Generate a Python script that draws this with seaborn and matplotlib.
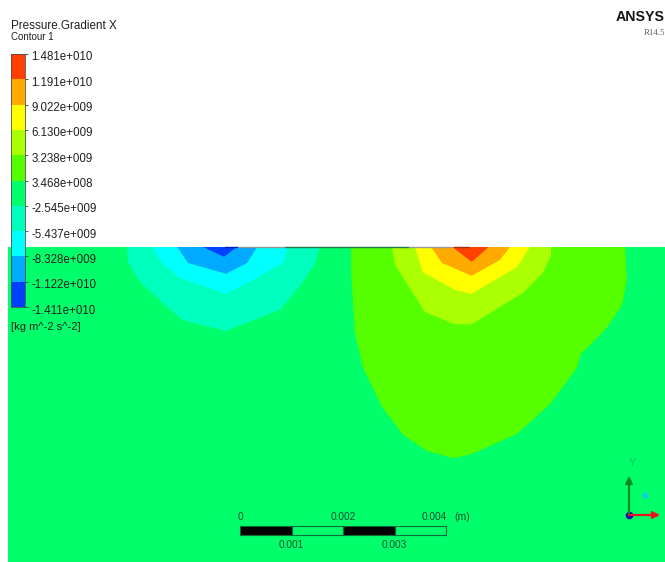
import numpy as np
import seaborn as sns
import matplotlib.pyplot as plt
from matplotlib.colors import BoundaryNorm, ListedColormap
from matplotlib.transforms import ScaledTranslation

# contour levels, top of legend first
LEVELS = [1.481e10, 1.191e10, 9.022e9, 6.130e9, 3.238e9, 3.468e8,
          -2.545e9, -5.437e9, -8.328e9, -1.122e10, -1.411e10]
LEVEL_LABELS = ["1.481e+010", "1.191e+010", "9.022e+009", "6.130e+009",
                "3.238e+009", "3.468e+008", "-2.545e+009", "-5.437e+009",
                "-8.328e+009", "-1.122e+010", "-1.411e+010"]
BAND_COLORS = ["#FF4000", "#FFAA00", "#FFFF00", "#AAFF00", "#55FF00",
               "#00FF6A", "#00FFBF", "#00FFFF", "#00AAFF", "#0040FF"]

# band outlines in mm, depth measured down from the top wall
TEAL_X = [-2.19, -2.17, -1.94, -1.50, -1.11, -0.27, 0.78, 1.22, 1.46, 1.55]
TEAL_D = [0, 0.31, 0.68, 1.09, 1.42, 1.63, 1.22, 0.68, 0.31, 0]
CYAN_X = [-1.71, -1.51, -1.17, -0.27, 0.25, 0.83, 0.93]
CYAN_D = [0, 0.31, 0.60, 0.91, 0.64, 0.31, 0]
SKY_X = [-1.22, -1.01, -0.27, 0.14, 0.33]
SKY_D = [0, 0.31, 0.52, 0.31, 0]
BLUE_X = [-0.72, -0.31, -0.06]
BLUE_D = [0, 0.19, 0]
GREEN_X = [2.16, 2.16, 2.23, 2.39, 2.76, 3.17, 3.63, 4.14, 4.50, 5.38, 6.02,
           6.54, 6.62, 7.09, 7.42, 7.51, 7.48]
GREEN_D = [0, 0.54, 1.65, 2.35, 3.11, 3.65, 3.96, 4.10, 4.02, 3.63, 3.05,
           2.35, 2.08, 1.61, 1.13, 0.64, 0]
LIME_X = [2.95, 3.01, 3.59, 4.17, 4.50, 5.50, 5.88, 6.04, 6.04]
LIME_D = [0, 0.35, 1.26, 1.50, 1.50, 0.89, 0.50, 0.16, 0]
YELLOW_X = [3.40, 3.55, 4.17, 4.49, 5.38, 5.63]
YELLOW_D = [0, 0.49, 0.83, 0.91, 0.39, 0]
ORANGE_X = [3.71, 3.92, 4.50, 5.05, 5.24]
ORANGE_D = [0, 0.31, 0.56, 0.25, 0]
RED_X = [4.12, 4.50, 4.83]
RED_D = [0, 0.29, 0]

# outermost first so the inner bands paint over them
BANDS = [(GREEN_X, GREEN_D, 4), (LIME_X, LIME_D, 3), (YELLOW_X, YELLOW_D, 2),
         (ORANGE_X, ORANGE_D, 1), (RED_X, RED_D, 0),
         (TEAL_X, TEAL_D, 6), (CYAN_X, CYAN_D, 7), (SKY_X, SKY_D, 8),
         (BLUE_X, BLUE_D, 9)]

SCALE_TICKS = [0, 1, 2, 3, 4]
SCALE_LABELS = ["0", "0.001", "0.002", "0.003", "0.004"]

W, H = 665, 562
PX_PER_MM = 51.5


def add_axes_px(fig, left, top, right, bottom):
    return fig.add_axes([left / W, 1 - bottom / H, (right - left) / W, (bottom - top) / H])


sns.set_style("white")
plt.rcParams["font.family"] = ["Liberation Sans", "DejaVu Sans"]

fig = plt.figure(figsize=(W / 100, H / 100), dpi=100)

# main domain
ax = add_axes_px(fig, 8, 247, 665, 562)
ax.set_facecolor(BAND_COLORS[5])
ax.set_xlim((8 - 240) / PX_PER_MM, (665 - 240) / PX_PER_MM)
ax.set_ylim((562 - 247) / PX_PER_MM, 0)
ax.set_xticks([])
ax.set_yticks([])
sns.despine(ax=ax, left=True, bottom=True, top=True, right=True)
for xs, ds, idx in BANDS:
    ax.fill(xs, ds, color=BAND_COLORS[idx], lw=0)

# thin wall line along the top edge
ax.plot([-0.06, 0.87], [0, 0], color="#8a9a90", lw=1, clip_on=False)
ax.plot([0.87, 3.28], [0, 0], color="#1f7a4a", lw=1, clip_on=False)
ax.plot([3.28, 4.1], [0, 0], color="#9a9a9a", lw=1, clip_on=False)
ax.plot([4.15, 4.45], [0, 0], color="#a03010", lw=1, clip_on=False)
ax.plot([-0.3, -0.06], [0, 0], color="#0020c0", lw=1, clip_on=False)

# scale bar
bar_top, bar_h = 5.42, 0.17
for i in range(len(SCALE_TICKS) - 1):
    face = "black" if i % 2 == 0 else "none"
    ax.broken_barh([(SCALE_TICKS[i], 1)], (bar_top, bar_h), facecolor=face,
                   edgecolor="#0b6b3a", lw=0.8)
for i, (tick, label) in enumerate(zip(SCALE_TICKS, SCALE_LABELS)):
    d = 5.24 if i % 2 == 0 else 5.78
    xpos = tick - 0.22 if i == 4 else tick
    ax.text(xpos, d, label, ha="center", va="center", fontsize=7.3, color="#0a5030")
ax.text(4.16, 5.24, "(m)", ha="left", va="center", fontsize=7.6, color="#0a5030")

# legend bar
cax = add_axes_px(fig, 11, 54, 25, 307)
bounds = sorted(LEVELS)
cmap = ListedColormap(BAND_COLORS[::-1])
norm = BoundaryNorm(bounds, cmap.N)
mids = (np.array(LEVELS[:-1]) + np.array(LEVELS[1:])) / 2
sns.heatmap(mids.reshape(-1, 1), ax=cax, cmap=cmap, norm=norm, cbar=False,
            xticklabels=False, yticklabels=False)
edges = np.arange(len(LEVELS))
cax.set_yticks(edges)
cax.set_yticklabels(LEVEL_LABELS, fontsize=8.3)
cax.tick_params(axis="y", left=False, right=True, labelleft=False, labelright=True,
                length=2, width=0.6, pad=2.5, color="#404040", labelcolor="#202020")
# the labels sit a little below their band edges
shift = ScaledTranslation(0, -2 / 100, fig.dpi_scale_trans)
for lbl in cax.get_yticklabels():
    lbl.set_transform(lbl.get_transform() + shift)
for side in cax.spines.values():
    side.set_visible(True)
    side.set_linewidth(0.6)
    side.set_color("#505050")

fig.text(11 / W, 1 - 26 / H, "Pressure.Gradient X", fontsize=8.35, va="center", color="#202020")
fig.text(11 / W, 1 - 37 / H, "Contour 1", fontsize=7, va="center", color="#202020")
fig.text(11 / W, 1 - 327 / H, "[kg m^-2 s^-2]", fontsize=8, va="center", color="#202020")

# logo text
fig.text(616 / W, 1 - 17 / H, "ANSYS", fontsize=10.2, fontweight="bold", va="center",
         color="#151515")
fig.text(644 / W, 1 - 33 / H, "R14.5", fontsize=6.3, va="center",
         family=["Liberation Serif"], color="#606060")

# coordinate triad, in picture pixels
tri = fig.add_axes([0, 0, 1, 1], facecolor="none")
tri.set_axis_off()
tri.set_xlim(0, W)
tri.set_ylim(H, 0)
tri.annotate("", xy=(629, 476), xytext=(629, 515),
             arrowprops=dict(arrowstyle="-|>", color="#0b8a1e", lw=1.6, mutation_scale=10,
                             shrinkA=0, shrinkB=0))
tri.annotate("", xy=(660, 515), xytext=(629, 515),
             arrowprops=dict(arrowstyle="-|>", color="#e8141e", lw=1.6, mutation_scale=10,
                             shrinkA=0, shrinkB=0))
tri.plot([629], [515], "o", ms=4.5, color="#0a10b0")
tri.plot([645], [495], "o", ms=3.5, color="#10d0e0")
tri.text(632.5, 463, "Y", fontsize=8, ha="center", va="center", color="#10c050")

fig.savefig("out.png", dpi=100)
